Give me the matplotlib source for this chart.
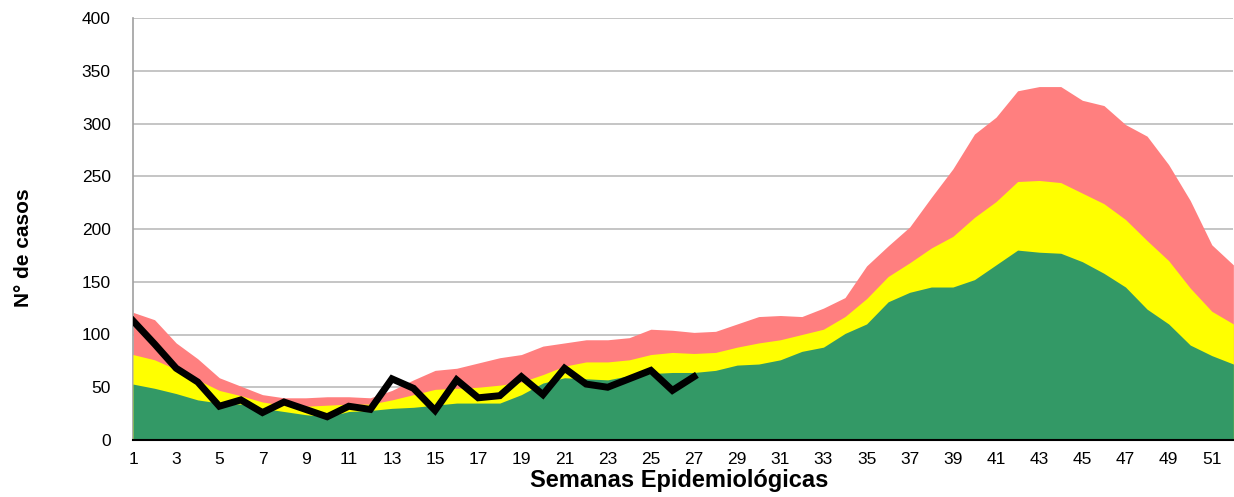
import matplotlib
matplotlib.use("Agg")
import matplotlib.pyplot as plt
import numpy as np

weeks = list(range(1, 53))

# Upper boundary of the green zone (success)
green = [53, 49, 44, 38, 35, 34, 30, 27, 24, 22, 27, 28, 30, 31, 33, 35, 35, 35, 43, 54,
         59, 58, 57, 61, 63, 64, 64, 66, 71, 72, 76, 84, 88, 101, 110, 131, 140, 145, 145, 152,
         166, 180, 178, 177, 169, 158, 145, 124, 110, 90, 80, 72]
# Upper boundary of the yellow zone (security)
yellow = [81, 76, 67, 57, 47, 42, 36, 33, 32, 33, 34, 34, 38, 43, 48, 49, 50, 52, 55, 62,
          70, 74, 74, 76, 81, 83, 82, 83, 88, 92, 95, 100, 105, 117, 134, 155, 168, 182, 193, 211,
          226, 245, 246, 244, 234, 224, 209, 189, 170, 144, 122, 110]
# Upper boundary of the red zone (alert)
red = [121, 114, 92, 77, 59, 51, 43, 40, 40, 41, 41, 40, 47, 57, 66, 68, 73, 78, 81, 89,
       92, 95, 95, 97, 105, 104, 102, 103, 110, 117, 118, 117, 125, 135, 165, 184, 202, 230, 257, 290,
       306, 331, 335, 335, 322, 317, 299, 288, 261, 227, 185, 166]
# Current year cases
cases_weeks = list(range(1, 28))
cases = [113, 91, 68, 55, 32, 38, 26, 36, 29, 22, 32, 29, 58, 49, 28, 57, 40, 42, 60, 43,
         68, 53, 50, 58, 66, 47, 60]

xticks = list(range(1, 52, 2))
yticks = list(range(0, 401, 50))

plt.rcParams['font.family'] = ['Liberation Sans', 'DejaVu Sans']

fig = plt.figure(figsize=(12.34, 4.97), dpi=100)
ax = fig.add_axes([133/1234, 1 - 440/497, 1 - 133/1234 - 0.0005, (440 - 18)/497])

ax.fill_between(weeks, 0, red, color='#FF7F7F', linewidth=0, zorder=2)
ax.fill_between(weeks, 0, yellow, color='#FFFF00', linewidth=0, zorder=3)
ax.fill_between(weeks, 0, green, color='#339966', linewidth=0, zorder=4)
ax.plot(cases_weeks, cases, color='black', linewidth=5, solid_joinstyle='miter', zorder=5)

ax.set_xlim(1, 52)
ax.set_ylim(0, 400)
ax.set_xticks(xticks)
ax.set_yticks(yticks)
ax.tick_params(axis='both', labelsize=12.5, length=0)
ax.tick_params(axis='x', pad=9)
ax.tick_params(axis='y', pad=16)
ax.yaxis.grid(True, color='#C0C0C0', linewidth=1.3, zorder=1)
ax.set_axisbelow(True)

for s in ['top', 'right']:
    ax.spines[s].set_visible(False)
ax.spines['left'].set_color('#A0A0A0')
ax.spines['left'].set_linewidth(1.2)
ax.spines['bottom'].set_color('black')
ax.spines['bottom'].set_linewidth(1.5)
ax.spines['bottom'].set_zorder(6)

ax.set_xlabel('Semanas Epidemiológicas', fontsize=17, fontweight='bold', va='baseline')
ax.xaxis.set_label_coords(0.5 - 4/1101, (440 - 487)/422)
ax.set_ylabel('N° de casos', fontsize=15, fontweight='bold', va='center')
ax.yaxis.set_label_coords((23 - 133)/1101, (440 - 247.5)/422)

fig.savefig('out.png', dpi=100)
